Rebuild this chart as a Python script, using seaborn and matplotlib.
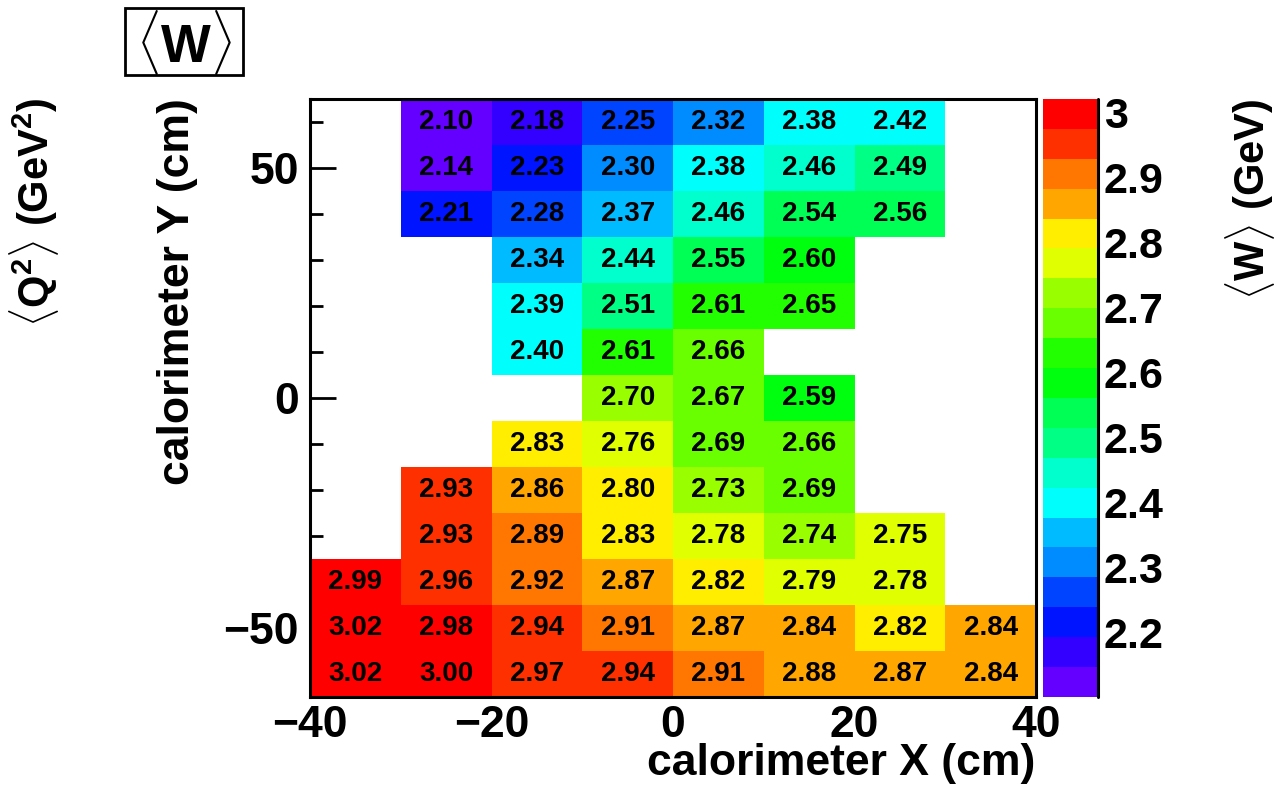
import numpy as np
import pandas as pd
import matplotlib
matplotlib.use("Agg")
import matplotlib.pyplot as plt
from matplotlib.colors import ListedColormap
from matplotlib.patches import Rectangle
import seaborn as sns

# ---- data: mean W per calorimeter cell (10 cm x 10 cm bins) ----
x_centers = [-35, -25, -15, -5, 5, 15, 25, 35]
y_centers = [60, 50, 40, 30, 20, 10, 0, -10, -20, -30, -40, -50, -60]
row_first_x = [-25, -25, -25, -15, -15, -15, -5, -15, -25, -25, -35, -35, -35]
row_values = [
    [2.10, 2.18, 2.25, 2.32, 2.38, 2.42],
    [2.14, 2.23, 2.30, 2.38, 2.46, 2.49],
    [2.21, 2.28, 2.37, 2.46, 2.54, 2.56],
    [2.34, 2.44, 2.55, 2.60],
    [2.39, 2.51, 2.61, 2.65],
    [2.40, 2.61, 2.66],
    [2.70, 2.67, 2.59],
    [2.83, 2.76, 2.69, 2.66],
    [2.93, 2.86, 2.80, 2.73, 2.69],
    [2.93, 2.89, 2.83, 2.78, 2.74, 2.75],
    [2.99, 2.96, 2.92, 2.87, 2.82, 2.79, 2.78],
    [3.02, 2.98, 2.94, 2.91, 2.87, 2.84, 2.82, 2.84],
    [3.02, 3.00, 2.97, 2.94, 2.91, 2.88, 2.87, 2.84],
]
bin_width = 10

x_tick_values = [-40, -20, 0, 20, 40]
x_tick_labels = ["\u221240", "\u221220", "0", "20", "40"]
y_tick_values = [50, 0, -50]
y_tick_labels = ["50", "0", "\u221250"]
z_tick_values = [2.2, 2.3, 2.4, 2.5, 2.6, 2.7, 2.8, 2.9, 3.0]
z_tick_labels = ["2.2", "2.3", "2.4", "2.5", "2.6", "2.7", "2.8", "2.9", "3"]
z_min, z_max = 2.101, 3.021

# 20-step violet -> red palette
palette = [
    "#6300FF", "#3300FF", "#0014FF", "#0044FF", "#008BFF",
    "#00BBFF", "#00FFFC", "#00FFCC", "#00FF85", "#00FF55",
    "#00FF0E", "#22FF00", "#69FF00", "#99FF00", "#E0FF00",
    "#FFEE00", "#FFA700", "#FF7700", "#FF3000", "#FF0000",
]
cmap = ListedColormap(palette)
cmap.set_under(palette[0])
cmap.set_over(palette[-1])

# ---- grid of cells ----
grid = pd.DataFrame(np.nan, index=y_centers, columns=x_centers)
for y, x0, vals in zip(y_centers, row_first_x, row_values):
    for j, v in enumerate(vals):
        grid.loc[y, x0 + bin_width * j] = v

x_lo = x_centers[0] - bin_width / 2
y_hi = y_centers[0] + bin_width / 2


def xpos(cm):
    return (cm - x_lo) / bin_width


def ypos(cm):
    return (y_hi - cm) / bin_width


sns.set_theme(style="white")
plt.rcParams["font.family"] = ["Liberation Sans", "DejaVu Sans"]
plt.rcParams["font.weight"] = "bold"
plt.rcParams["mathtext.fontset"] = "custom"
plt.rcParams["mathtext.rm"] = "Liberation Sans:bold"
plt.rcParams["mathtext.bf"] = "Liberation Sans:bold"
plt.rcParams["mathtext.it"] = "Liberation Sans:bold"
for key in ["text.color", "axes.labelcolor", "xtick.color", "ytick.color",
            "axes.edgecolor"]:
    plt.rcParams[key] = "black"

W, H = 1285, 790
fig = plt.figure(figsize=(W / 100, H / 100), dpi=100)
ax_l, ax_r, ax_t, ax_b = 310, 1036, 99, 697
ax = fig.add_axes([ax_l / W, 1 - ax_b / H, (ax_r - ax_l) / W, (ax_b - ax_t) / H])
cax = fig.add_axes([1043 / W, 1 - ax_b / H, (1098 - 1043) / W, (ax_b - ax_t) / H])

sns.heatmap(
    grid, ax=ax, cbar_ax=cax, cmap=cmap, vmin=z_min, vmax=z_max,
    annot=True, fmt=".2f",
    annot_kws=dict(color="black", fontsize=20, fontweight="bold"),
    xticklabels=False, yticklabels=False, linewidths=0,
)

# frame
for sp in ax.spines.values():
    sp.set_visible(True)
    sp.set_color("black")
    sp.set_linewidth(2.2)

# x ticks: labelled every 20 cm, small ticks every 5 cm
ax.set_xticks([xpos(v) for v in x_tick_values])
ax.set_xticklabels(x_tick_labels, fontsize=32, fontweight="bold")
x_minor = [v for v in np.arange(-35, 40, 5) if v not in x_tick_values]
ax.set_xticks([xpos(v) for v in x_minor], minor=True)

# y ticks: labelled every 50 cm, small ticks every 10 cm
ax.set_yticks([ypos(v) for v in y_tick_values])
ax.set_yticklabels(y_tick_labels, fontsize=32, fontweight="bold", rotation=0)
y_minor = [v for v in range(-60, 70, 10) if v not in y_tick_values]
ax.set_yticks([ypos(v) for v in y_minor], minor=True)

ax.tick_params(axis="x", which="major", direction="in", length=10, width=2,
               color="black", labelcolor="black", pad=6, bottom=True, top=False)
ax.tick_params(axis="x", which="minor", direction="in", length=5.5, width=2,
               color="black", bottom=True, top=False)
ax.tick_params(axis="y", which="major", direction="in", length=19, width=2,
               color="black", labelcolor="black", pad=8, left=True, right=False)
ax.tick_params(axis="y", which="minor", direction="in", length=9.5, width=2,
               color="black", left=True, right=False)

# colour scale
cbar = ax.collections[0].colorbar
cbar.set_ticks(z_tick_values)
cbar.set_ticklabels(z_tick_labels)
cbar.outline.set_visible(False)
cbar.ax.tick_params(direction="in", length=19, width=2.2, color="black",
                    labelcolor="black", labelsize=31, pad=4, right=True)
for t in cbar.ax.get_yticklabels():
    t.set_fontweight("bold")
cbar.ax.plot([1, 1], [0, 1], transform=cbar.ax.transAxes, color="black",
             lw=2.2, clip_on=False)

# titles
fig.text(1035 / W, 1 - 764 / H, "calorimeter X (cm)", ha="right", va="center",
         fontsize=32, fontweight="bold")
fig.text(178 / W, 1 - 98 / H, "calorimeter Y (cm)", ha="center", va="top",
         rotation=90, fontsize=32, fontweight="bold")
fig.text(34 / W, 1 - 97 / H, r"$\langle$Q$^{2}\rangle$ (GeV$^{2}$)", ha="center",
         va="top", rotation=90, fontsize=30, fontweight="bold")
fig.text(1250 / W, 1 - 99 / H, r"$\langle$W$\rangle$ (GeV)", ha="center",
         va="top", rotation=90, fontsize=30, fontweight="bold")

# boxed label in the top-left corner
fig.patches.append(Rectangle((125 / W, 1 - 75 / H), (243 - 125) / W, (75 - 8) / H,
                             transform=fig.transFigure, facecolor="white",
                             edgecolor="black", linewidth=2))
fig.text(184 / W, 1 - 42 / H, r"$\langle$W$\rangle$", ha="center", va="center",
         fontsize=38, fontweight="bold")

fig.savefig("out.png", dpi=100, facecolor="white")
